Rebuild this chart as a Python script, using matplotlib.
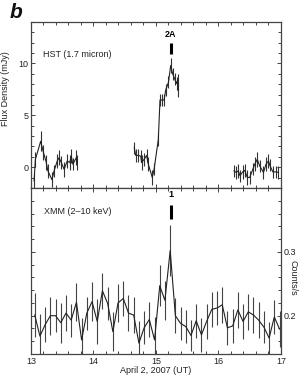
import matplotlib
matplotlib.use('Agg')
import matplotlib.pyplot as plt
from matplotlib.ticker import MultipleLocator, FixedLocator

plt.rcParams['font.family'] = ['Liberation Sans', 'DejaVu Sans']

# HST 1.7 micron light curve (mJy), three orbits
hst_t = [13.05, 13.07, 13.155, 13.2, 13.245, 13.27, 13.335, 13.37, 13.42, 13.45,
         13.485, 13.53, 13.58, 13.62, 13.645, 13.67, 13.725, 13.74,
         14.653, 14.675, 14.707, 14.755, 14.77, 14.81, 14.85, 14.877, 14.94, 14.97,
         15.037, 15.064, 15.1, 15.13, 15.155, 15.2, 15.235, 15.267, 15.3, 15.33, 15.347, 15.357,
         16.248, 16.28, 16.317, 16.344, 16.387, 16.42, 16.46, 16.5, 16.55, 16.58,
         16.62, 16.66, 16.72, 16.76, 16.8, 16.82, 16.87, 16.92, 16.96]
hst_flux = [-1.3, 0.76, 2.5, 1.4, 0.45, -0.35, -1.2, -0.35, 0.6, 0.92,
            0.45, -0.2, 0.6, 0.45, 1.08, 0.29, 0.92, 0.45,
            1.88, 1.14, 1.14, 1.08, 0.45, 0.76, 1.14, 0.29, -0.98, -0.19,
            2.67, 6.48, 6.48, 6.48, 7.43, 8.2, 9.8, 9.0, 8.5, 8.07, 8.4, 7.4,
            -0.35, -0.5, -0.35, -0.83, -0.45, -0.3, -0.98, -0.98, -0.19, 0.29,
            0.76, 0.12, -0.5, 0.29, 0.6, 0.2, -0.45, -0.45, -0.5]
hst_err = [0.7, 0.7, 0.95, 0.7, 0.7, 0.7, 0.7, 0.6, 0.7, 0.7,
           0.6, 0.7, 0.7, 0.7, 0.7, 0.6, 0.7, 0.7,
           0.6, 0.6, 0.6, 0.6, 0.7, 0.6, 0.6, 0.7, 0.7, 0.6,
           0.6, 0.6, 0.6, 0.6, 0.6, 0.6, 0.7, 0.6, 0.6, 0.6, 0.6, 0.6,
           0.6, 0.6, 0.7, 0.6, 0.7, 0.6, 0.7, 0.6, 0.6, 0.7,
           0.7, 0.6, 0.6, 0.7, 0.7, 0.6, 0.6, 0.6, 0.6]
hst_gaps = [18, 40]  # index where a new orbit starts

# XMM 2-10 keV light curve (counts/s)
xmm_t = [13.06, 13.143, 13.227, 13.31, 13.393, 13.477, 13.56, 13.643, 13.727, 13.81,
         13.893, 13.977, 14.06, 14.143, 14.227, 14.31, 14.393, 14.477, 14.56, 14.643,
         14.727, 14.81, 14.893, 14.977, 15.06, 15.143, 15.227, 15.31, 15.393, 15.477,
         15.56, 15.643, 15.727, 15.81, 15.893, 15.977, 16.06, 16.143, 16.227, 16.31,
         16.393, 16.477, 16.56, 16.643, 16.727, 16.81, 16.893, 16.977]
xmm_rate = [0.201, 0.168, 0.186, 0.200, 0.200, 0.189, 0.204, 0.193, 0.221, 0.162,
            0.204, 0.222, 0.191, 0.239, 0.219, 0.175, 0.220, 0.227, 0.204, 0.201,
            0.157, 0.181, 0.194, 0.162, 0.247, 0.224, 0.302, 0.200, 0.188, 0.183,
            0.169, 0.192, 0.170, 0.191, 0.210, 0.212, 0.217, 0.181, 0.184, 0.209,
            0.191, 0.206, 0.201, 0.193, 0.182, 0.165, 0.198, 0.179]
xmm_err = [0.034, 0.035, 0.027, 0.030, 0.026, 0.031, 0.028, 0.026, 0.030, 0.035,
           0.026, 0.030, 0.035, 0.028, 0.026, 0.030, 0.030, 0.028, 0.028, 0.028,
           0.035, 0.026, 0.027, 0.036, 0.032, 0.030, 0.040, 0.027, 0.026, 0.026,
           0.025, 0.027, 0.027, 0.027, 0.027, 0.027, 0.028, 0.027, 0.027, 0.028,
           0.027, 0.028, 0.028, 0.028, 0.025, 0.025, 0.027, 0.028]

fig = plt.figure(figsize=(3.05, 3.75), dpi=100)
ax1 = fig.add_axes([0.1016, 0.4987, 0.8197, 0.4427])
ax2 = fig.add_axes([0.1016, 0.056, 0.8197, 0.4427])

spine_col = '#444444'
for ax in (ax1, ax2):
    for s in ax.spines.values():
        s.set_color(spine_col)
        s.set_linewidth(0.9)
    ax.set_xlim(13, 17)
    ax.xaxis.set_major_locator(MultipleLocator(1))
    ax.xaxis.set_minor_locator(MultipleLocator(0.2))
    ax.tick_params(which='both', direction='in', top=True, bottom=True, left=True, right=True,
                   colors=spine_col, labelcolor='#222222', labelsize=6.5, width=0.7, pad=2)
    ax.tick_params(which='major', length=3)
    ax.tick_params(which='minor', length=2)

# top panel: HST
starts = [0] + hst_gaps
ends = hst_gaps + [len(hst_t)]
for a, b in zip(starts, ends):
    ax1.errorbar(hst_t[a:b], hst_flux[a:b], yerr=hst_err[a:b], color='#222222',
                 ecolor='#333333', elinewidth=0.8, linewidth=0.8, capsize=0)
ax1.set_ylim(-2, 14)
ax1.yaxis.set_major_locator(FixedLocator([0, 5, 10]))
ax1.yaxis.set_minor_locator(MultipleLocator(1))
ax1.tick_params(labelbottom=False)
ax1.set_ylabel('Flux Density (mJy)', fontsize=6.5, color='#222222')
ax1.yaxis.set_label_coords(-0.085, 0.6)
ax1.text(0.048, 0.807, 'HST (1.7 micron)', transform=ax1.transAxes, fontsize=6.5,
         color='#222222', va='center')
ax1.plot([15.24, 15.24], [10.9, 12.0], color='black', linewidth=2.2, solid_capstyle='butt')
ax1.text(15.24, 12.35, '2A', ha='center', va='bottom', fontsize=6.5, fontweight='bold')

# bottom panel: XMM
ax2.errorbar(xmm_t, xmm_rate, yerr=xmm_err, color='#222222', ecolor='#444444',
             elinewidth=0.8, linewidth=0.8, capsize=0)
ax2.set_ylim(0.14, 0.40)
ax2.yaxis.set_major_locator(FixedLocator([0.2, 0.3]))
ax2.yaxis.set_minor_locator(MultipleLocator(0.02))
ax2.tick_params(labelleft=False, labelright=True)
ax2.set_ylabel('Counts/s', fontsize=6.5, rotation=270, color='#222222')
ax2.yaxis.set_label_position('right')
ax2.yaxis.set_label_coords(1.068, 0.46)
ax2.set_xlabel('April 2, 2007 (UT)', fontsize=6.5, color='#222222', labelpad=0)
ax2.text(0.052, 0.861, 'XMM (2\u201310 keV)', transform=ax2.transAxes, fontsize=6.5,
         color='#222222', va='center')
ax2.plot([15.235, 15.235], [0.352, 0.374], color='black', linewidth=2.2, solid_capstyle='butt')
ax2.text(15.235, 0.382, '1', ha='center', va='bottom', fontsize=6.5, fontweight='bold')

fig.text(0.033, 0.953, 'b', fontsize=15, fontstyle='italic', fontweight='bold', color='#111111')

fig.savefig('out.png', dpi=100)
